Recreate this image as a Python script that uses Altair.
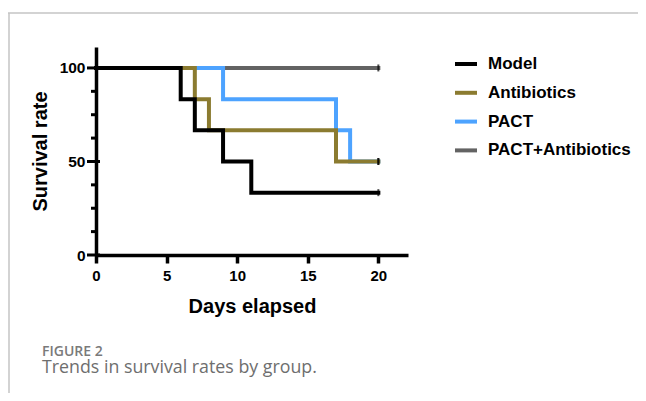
import altair as alt
import pandas as pd

# ---- data ----
groups = ["Model", "Antibiotics", "PACT", "PACT+Antibiotics"]
colors = ["#000000", "#8B7B30", "#4DA3FF", "#636363"]

model_days = [0, 6, 7, 9, 11, 20]
model_surv = [100, 83.33, 66.67, 50, 33.33, 33.33]
abx_days = [0, 7, 8, 17, 20]
abx_surv = [100, 83.33, 66.67, 50, 50]
pact_days = [0, 9, 17, 18, 20]
pact_surv = [100, 83.33, 66.67, 50, 50]
combo_days = [0, 20]
combo_surv = [100, 100]

x_ticks = [0, 5, 10, 15, 20]
y_major = [0, 50, 100]
y_minor = [12.5, 25, 37.5, 62.5, 75, 87.5]

caption_label = ["FIGURE 2"]
caption_text = ["Trends in survival rates by group."]

# ---- tables ----
series = {
    "Model": (model_days, model_surv),
    "Antibiotics": (abx_days, abx_surv),
    "PACT": (pact_days, pact_surv),
    "PACT+Antibiotics": (combo_days, combo_surv),
}
rows = []
for g, (d, s) in series.items():
    for di, si in zip(d, s):
        rows.append({"group": g, "day": di, "surv": si})
df = pd.DataFrame(rows)
ends = pd.DataFrame([{"group": g, "day": d[-1], "surv": s[-1]} for g, (d, s) in series.items()])

FONT = "Liberation Sans"
xs = alt.Scale(domain=[0, 22.1], nice=False, zero=False)
ys = alt.Scale(domain=[0, 111.2], nice=False, zero=False)

xaxis = alt.Axis(values=x_ticks, tickSize=8, tickWidth=3.5, tickColor="black",
                 domainWidth=3.5, domainColor="black", grid=False,
                 labelFont=FONT, labelFontWeight="bold", labelFontSize=15,
                 labelColor="black", labelPadding=5, labelFlush=False,
                 title="Days elapsed", titleFont=FONT, titleFontSize=20,
                 titleFontWeight="bold", titleColor="black", titlePadding=13)
yaxis = alt.Axis(values=y_major, ticks=False, domainWidth=3.5, domainColor="black",
                 grid=False, labelFont=FONT, labelFontWeight="bold", labelFontSize=15.5,
                 labelColor="black", labelPadding=11, labelFlush=False,
                 title="Survival rate", titleFont=FONT, titleFontSize=20,
                 titleFontWeight="bold", titleColor="black", titlePadding=9)

color = alt.Color("group:N", scale=alt.Scale(domain=groups, range=colors),
                  legend=alt.Legend(title=None, orient="none", legendX=357, legendY=4,
                                    symbolType="stroke", symbolStrokeWidth=4, symbolSize=484,
                                    labelFont=FONT, labelFontSize=17, labelFontWeight="bold",
                                    labelColor="black", rowPadding=7.8, labelOffset=9))

def line_layer(g):
    return alt.Chart(df).transform_filter(alt.datum.group == g).mark_line(
        interpolate="step-after", strokeWidth=4, strokeJoin="miter", strokeCap="square"
    ).encode(
        x=alt.X("day:Q", scale=xs, axis=xaxis),
        y=alt.Y("surv:Q", scale=ys, axis=yaxis),
        color=color,
    )

lines = [line_layer(g) for g in ["PACT+Antibiotics", "PACT", "Antibiotics", "Model"]]

censor = alt.Chart(ends).mark_tick(orient="vertical", size=7, thickness=2, color="black").encode(
    x=alt.X("day:Q", scale=xs, axis=xaxis),
    y=alt.Y("surv:Q", scale=ys, axis=yaxis),
)

major = alt.Chart(pd.DataFrame({"v": y_major})).mark_rule(color="black", strokeWidth=3).encode(
    y=alt.Y("v:Q", scale=ys, axis=yaxis), x=alt.value(-9), x2=alt.value(4))
minor = alt.Chart(pd.DataFrame({"v": y_minor})).mark_rule(color="black", strokeWidth=3).encode(
    y=alt.Y("v:Q", scale=ys, axis=yaxis), x=alt.value(-5), x2=alt.value(0))

blank = alt.Data(values=[{}])
frame_top = alt.Chart(blank).mark_rule(color="#c4c4c4", strokeWidth=1.5).encode(
    x=alt.value(-88), x2=alt.value(560), y=alt.value(-34))
frame_left = alt.Chart(blank).mark_rule(color="#c4c4c4", strokeWidth=1.5).encode(
    x=alt.value(-87), y=alt.value(-34), y2=alt.value(360))

cap1 = alt.Chart(pd.DataFrame({"t": caption_label})).mark_text(
    align="left", baseline="alphabetic", font="Open Sans", fontSize=14, fontWeight=600,
    color="#7a7a7a").encode(text="t:N", x=alt.value(-54), y=alt.value(309))
cap2 = alt.Chart(pd.DataFrame({"t": caption_text})).mark_text(
    align="left", baseline="alphabetic", font="Open Sans", fontSize=17.8,
    color="#6e6e6e").encode(text="t:N", x=alt.value(-54), y=alt.value(325.5))

chart = alt.layer(frame_top, frame_left, *lines, censor, major, minor, cap1, cap2).properties(
    width=312, height=208,
    autosize=alt.AutoSizeParams(type="none"),
    padding={"left": 88, "top": 39, "right": 230, "bottom": 138},
    background="white",
).configure_view(strokeWidth=0)

chart.save("out.html", embed_options={"renderer": "svg", "actions": False})
